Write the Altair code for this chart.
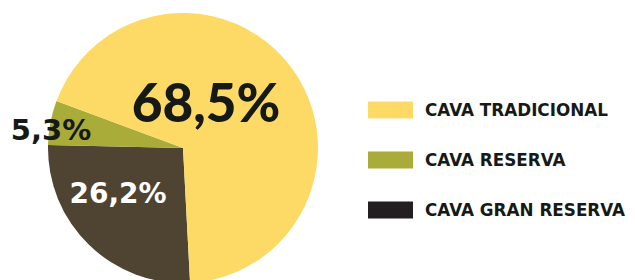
import math
import altair as alt
import pandas as pd

categories = ["CAVA GRAN RESERVA", "CAVA RESERVA", "CAVA TRADICIONAL"]
values = [26.2, 5.3, 68.5]
labels = ["26,2%", "5,3%", "68,5%"]
pie_colors = ["#4E4431", "#A9AC39", "#FDD966"]
legend_colors = ["#231F20", "#A9AC39", "#FDD966"]
legend_order = ["CAVA TRADICIONAL", "CAVA RESERVA", "CAVA GRAN RESERVA"]

df = pd.DataFrame({
    "category": categories,
    "value": values,
    "label": labels,
    "pie_color": pie_colors,
    "legend_color": legend_colors,
    "order": [0, 1, 2],
})

start = math.radians(177)
base = alt.Chart(df)

pie = base.mark_arc(radius=135).encode(
    theta=alt.Theta("value:Q", stack=True, scale=alt.Scale(range=[start, start + 2 * math.pi])),
    order=alt.Order("order:Q"),
    fill=alt.Fill("pie_color:N", scale=None, legend=None),
    x=alt.value(175),
    y=alt.value(140),
)

def lab(cat, x, y, size, color, font):
    return base.transform_filter(alt.datum.category == cat).mark_text(
        font=font, fontWeight=900 if font == "Lato" else "bold", fontSize=size, color=color,
        align="center", baseline="alphabetic",
    ).encode(text="label:N", x=alt.value(x), y=alt.value(y))

t1 = lab("CAVA TRADICIONAL", 198, 114, 53, "#161A17", "Lato")
t2 = lab("CAVA RESERVA", 43, 132, 29, "#161A17", "DejaVu Sans")
t3 = lab("CAVA GRAN RESERVA", 110, 195, 28, "#FFFFFF", "DejaVu Sans")

yscale = alt.Scale(type="point", domain=legend_order, range=[102, 202], padding=0)

leg_sym = base.mark_rule(strokeWidth=17, strokeCap="butt").encode(
    x=alt.value(360), x2=alt.value(405),
    y=alt.Y("category:N", scale=yscale, axis=None),
    color=alt.Color("legend_color:N", scale=None, legend=None),
)
leg_txt = base.mark_text(
    font="DejaVu Sans", fontWeight="bold", fontSize=16.8, color="#161A17",
    align="left", baseline="middle", dy=1,
).encode(
    x=alt.value(417),
    y=alt.Y("category:N", scale=yscale, axis=None),
    text="category:N",
)

chart = alt.layer(pie, t1, t2, t3, leg_sym, leg_txt).properties(
    width=619, height=272, padding=0,
    autosize=alt.AutoSizeParams(type="none"),
).configure_view(stroke=None)

chart.save("out.html", embed_options={"renderer": "svg", "actions": False})
